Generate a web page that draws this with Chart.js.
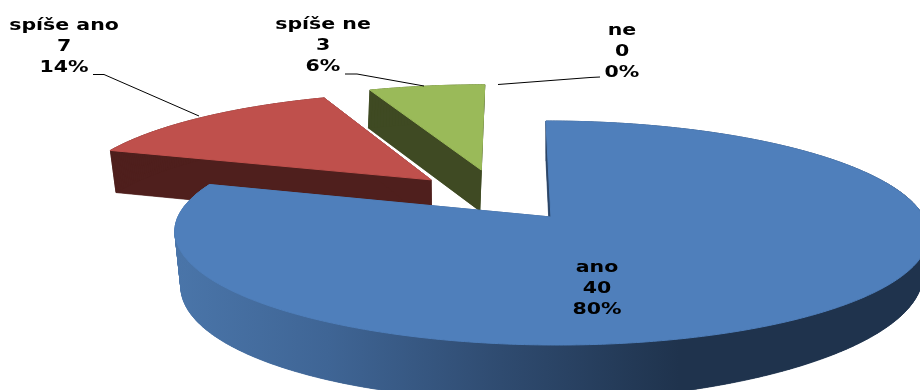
<!DOCTYPE html>
<html>
<head>
<meta charset="utf-8">
<style>html,body{margin:0;padding:0;background:#fff}#box{width:920px;height:390px;overflow:hidden}</style>
<script src="https://cdn.jsdelivr.net/npm/chart.js@4/dist/chart.umd.min.js"></script>
</head>
<body>
<div id="box"><canvas id="c" width="920" height="390"></canvas></div>
<script>
const categories = ["ano", "spíše ano", "spíše ne", "ne"];
const values = [40, 7, 3, 0];
const percentLabels = ["80%", "14%", "6%", "0%"];
const topColors = ["#4f7fbb", "#bf504c", "#9aba59", "#8064a2"];
const wallColors = ["#2b466a", "#4f1f1d", "#3f4a23", "#3f3151"];

// slice displacement in the pie plane (exploded pie), draw order, label anchors
const explode = [[0.107, 0], [-0.225, 0.3556], [-0.085, 0.456], [0, 0]];
const drawOrder = [1, 2, 0];
const labelPos = [[597, 272], [64, 30], [323, 29], [622, 35]];
const leaders = [null, [[93, 74.5], [104, 74.5], [199, 116]], [[345, 74], [357, 74], [424, 86]], [[600, 77], [590, 77.5], [498, 84.5]]];

// perspective view of the pie plane
const view = { px: 511, k: 373, a: -78.7, b: 217, c: 0.1429 };
// how the lower face of each slice sits under its top face
const walls = [
  { base: 38, slope: 0.07, tilt: 0.02, cx: 550, shrink: 0.016, lean: 0 },
  { base: 40, slope: 0.036, tilt: 0, cx: 432, shrink: 0.016, lean: 0.5 },
  { base: 38, slope: 0.036, tilt: 0, cx: 482, shrink: 0, lean: -1.5 },
  { base: 38, slope: 0.036, tilt: 0, cx: 550, shrink: 0, lean: 0 }
];
function project(X, Y) {
  const d = 1 + view.c * Y;
  return [view.px + view.k * X / d, (view.a * Y + view.b) / d];
}
function lower(p, w) {
  return [
    p[0] + (w.cx - p[0]) * w.shrink + w.lean,
    p[1] + w.base + (p[1] - 90) * w.slope - (p[0] - 550) * w.tilt
  ];
}
function outline(i, start, end) {
  const [ox, oy] = explode[i];
  const pts = [project(ox, oy)];
  const n = Math.max(2, Math.ceil((end - start) / 0.01));
  for (let s = 0; s <= n; s++) {
    const t = start + (end - start) * s / n;
    pts.push(project(ox + Math.sin(t), oy + Math.cos(t)));
  }
  return pts;
}
function trace(ctx, pts) {
  ctx.beginPath();
  pts.forEach((p, j) => j ? ctx.lineTo(p[0], p[1]) : ctx.moveTo(p[0], p[1]));
  ctx.closePath();
}
const pie3d = {
  id: "pie3d",
  beforeDatasetDraw(chart) {
    const ctx = chart.ctx;
    const arcs = chart.getDatasetMeta(0).data;
    ctx.save();
    drawOrder.forEach(i => {
      const st = arcs[i].startAngle + Math.PI / 2;
      const en = arcs[i].endAngle + Math.PI / 2;
      if (en - st < 1e-4) return;
      const top = outline(i, st, en);
      const low = top.map(p => lower(p, walls[i]));
      let wall = wallColors[i];
      if (i === 0) {
        wall = ctx.createLinearGradient(176, 0, 700, 0);
        wall.addColorStop(0, "#4a75a9");
        wall.addColorStop(0.29, "#3f6595");
        wall.addColorStop(0.62, "#2f4b70");
        wall.addColorStop(0.96, "#1f334d");
        wall.addColorStop(1, "#1f334d");
      }
      ctx.fillStyle = wall;
      ctx.strokeStyle = wall;
      ctx.lineWidth = 0.7;
      trace(ctx, low); ctx.fill();
      for (let j = 0; j < top.length; j++) {
        const m = (j + 1) % top.length;
        trace(ctx, [top[j], top[m], low[m], low[j]]);
        ctx.fill(); ctx.stroke();
      }
      trace(ctx, top);
      ctx.fillStyle = topColors[i];
      ctx.strokeStyle = topColors[i];
      ctx.lineWidth = 1;
      ctx.fill(); ctx.stroke();
    });
    ctx.restore();
    return false;
  },
  afterDatasetsDraw(chart) {
    const ctx = chart.ctx;
    ctx.save();
    ctx.strokeStyle = "#000";
    ctx.lineWidth = 1;
    leaders.forEach(l => {
      if (!l) return;
      ctx.beginPath();
      l.forEach((p, j) => j ? ctx.lineTo(p[0], p[1]) : ctx.moveTo(p[0], p[1]));
      ctx.stroke();
    });
    ctx.fillStyle = "#000";
    ctx.font = "bold 16px 'DejaVu Sans'";
    ctx.textAlign = "center";
    ctx.textBaseline = "alphabetic";
    categories.forEach((name, i) => {
      const [x, y] = labelPos[i];
      [name, String(values[i]), percentLabels[i]].forEach((txt, j) => {
        ctx.save();
        ctx.translate(x, y + j * 21);
        ctx.scale(1.28, 1);
        ctx.fillText(txt, 0, 0);
        ctx.restore();
      });
    });
    ctx.restore();
  }
};
new Chart(document.getElementById("c"), {
  type: "pie",
  data: { labels: categories, datasets: [{ data: values, backgroundColor: topColors, borderWidth: 0 }] },
  options: {
    responsive: false,
    animation: false,
    rotation: 0,
    plugins: { legend: { display: false }, tooltip: { enabled: false } }
  },
  plugins: [pie3d]
});
</script>
</body>
</html>
